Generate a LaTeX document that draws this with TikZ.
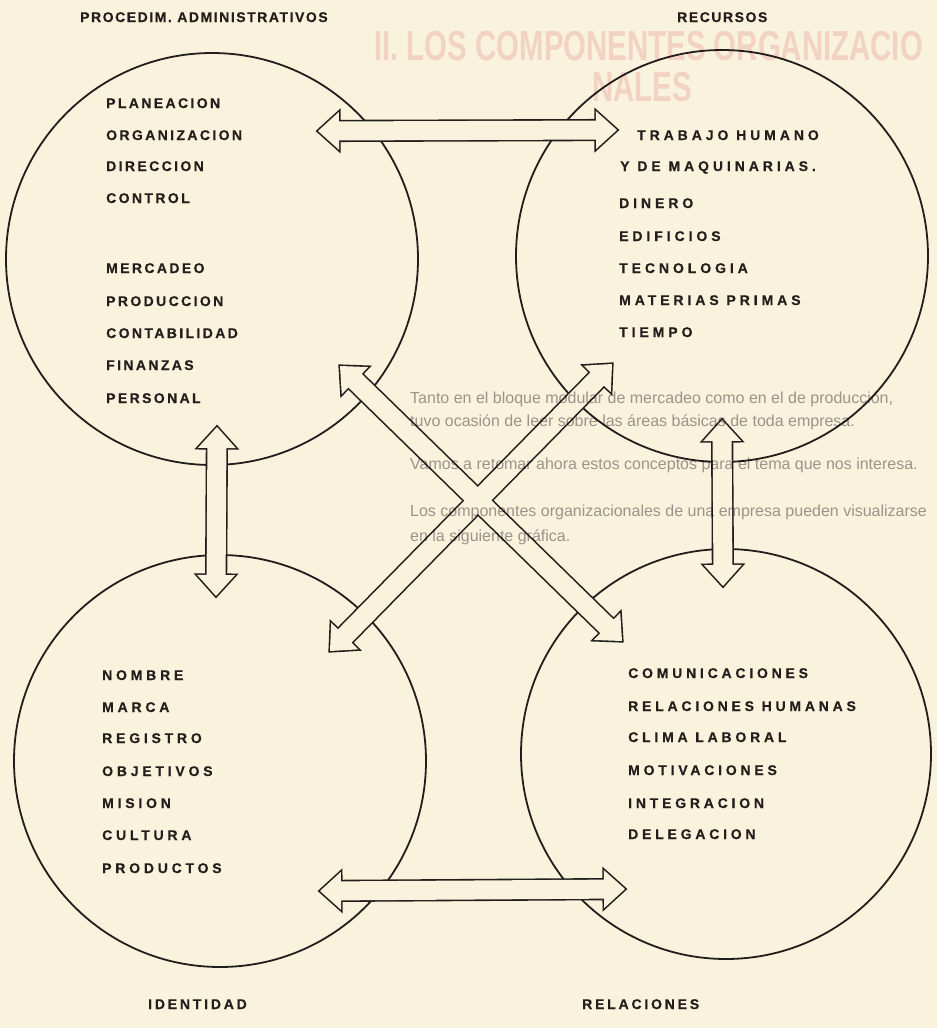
\documentclass[tikz,border=0pt]{standalone}
\usepackage{graphicx}
\usepackage{fontspec}
\setmainfont{Liberation Sans}
\newfontfamily\fhead[LetterSpace=11,FakeBold=0.4]{Liberation Sans}
\newfontfamily\ftl[LetterSpace=17,FakeBold=0.4]{Liberation Sans}
\newfontfamily\ftr[LetterSpace=28,FakeBold=0.4]{Liberation Sans}
\newfontfamily\fbl[LetterSpace=27,FakeBold=0.4]{Liberation Sans}
\newfontfamily\fbr[LetterSpace=27,FakeBold=0.4]{Liberation Sans}
\newfontfamily\flab[LetterSpace=20,FakeBold=0.4]{Liberation Sans}
\newfontfamily\fghost{Liberation Sans}
\usetikzlibrary{calc}
\definecolor{paper}{RGB}{249,242,221}
\definecolor{inkc}{RGB}{35,30,28}
\definecolor{ghostgray}{RGB}{158,156,160}
\definecolor{ghostpink}{RGB}{248,222,226}
\def\hl{21pt}\def\hw{19pt}\def\sw{9.5pt}
\newcommand\defarrow[3]{%
 \coordinate (#1-p) at ($(#2)!\hl!(#3)$);
 \coordinate (#1-q) at ($(#3)!\hl!(#2)$);
 \coordinate (#1-a1) at ($(#1-p)!\hw!90:(#3)$);
 \coordinate (#1-a2) at ($(#1-p)!\sw!90:(#3)$);
 \coordinate (#1-a3) at ($(#1-q)!\sw!-90:(#2)$);
 \coordinate (#1-a4) at ($(#1-q)!\hw!-90:(#2)$);
 \coordinate (#1-b1) at ($(#1-q)!\hw!90:(#2)$);
 \coordinate (#1-b2) at ($(#1-q)!\sw!90:(#2)$);
 \coordinate (#1-b3) at ($(#1-p)!\sw!-90:(#3)$);
 \coordinate (#1-b4) at ($(#1-p)!\hw!-90:(#3)$);
}
\newcommand\arrowshape[3]{(#2) -- (#1-a1) -- (#1-a2) -- (#1-a3) -- (#1-a4) -- (#3) -- (#1-b1) -- (#1-b2) -- (#1-b3) -- (#1-b4) -- cycle}
\begin{document}
\begin{tikzpicture}[x=1pt,y=-1pt,
  ring/.style={circle, draw=inkc, line width=1.8pt, inner sep=0pt, minimum size=#1},
  arrowink/.style={draw=inkc, line width=3.2pt, line join=miter, miter limit=10},
  arrowfill/.style={fill=paper},
  txt/.style={anchor=base west, inner sep=0pt, text=inkc},
  tltxt/.style={txt, font=\ftl\bfseries\fontsize{14pt}{14pt}\selectfont},
  trtxt/.style={txt, font=\ftr\bfseries\fontsize{14pt}{14pt}\selectfont},
  bltxt/.style={txt, font=\fbl\bfseries\fontsize{14pt}{14pt}\selectfont},
  brtxt/.style={txt, font=\fbr\bfseries\fontsize{14pt}{14pt}\selectfont},
  headtxt/.style={txt, font=\fhead\bfseries\fontsize{14pt}{14pt}\selectfont},
  labtxt/.style={txt, font=\flab\bfseries\fontsize{14pt}{14pt}\selectfont},
  ghostp/.style={anchor=base west, inner sep=0pt, text=ghostpink, font=\fghost\bfseries\fontsize{42pt}{42pt}\selectfont},
  ghostg/.style={anchor=base west, inner sep=0pt, text=ghostgray, font=\fghost\fontsize{16pt}{16pt}\selectfont}]
\fill[paper] (0,0) rectangle (937,1028);
\useasboundingbox (0,0) rectangle (937,1028);

% circles
\node[ring=412pt] (tl) at (212,259) {};
\node[ring=412pt] (tr) at (722,256) {};
\node[ring=412pt] (bl) at (220,761) {};
\node[ring=410pt] (br) at (726,754) {};

% arrow end points
\coordinate (h1s) at (318,131); \coordinate (h1e) at (617,130);
\coordinate (h2s) at (320,891); \coordinate (h2e) at (625,889);
\coordinate (v1s) at (217,427); \coordinate (v1e) at (216,596);
\coordinate (v2s) at (722,420); \coordinate (v2e) at (723,586);
\coordinate (das) at (340,366); \coordinate (dae) at (622,641);
\coordinate (dbs) at (612,364); \coordinate (dbe) at (330,651);
\defarrow{h1}{h1s}{h1e}
\defarrow{h2}{h2s}{h2e}
\defarrow{v1}{v1s}{v1e}
\defarrow{v2}{v2s}{v2e}
\defarrow{da}{das}{dae}
\defarrow{db}{dbs}{dbe}

\foreach \n/\s/\e in {h1/h1s/h1e, h2/h2s/h2e, v1/v1s/v1e, v2/v2s/v2e, da/das/dae, db/dbs/dbe}
  \draw[arrowink] \arrowshape{\n}{\s}{\e};
\foreach \n/\s/\e in {h1/h1s/h1e, h2/h2s/h2e, v1/v1s/v1e, v2/v2s/v2e, da/das/dae, db/dbs/dbe}
  \fill[arrowfill] \arrowshape{\n}{\s}{\e};

% headers
\node[headtxt] (hd1) at (80,22) {PROCEDIM. ADMINISTRATIVOS};
\node[headtxt] (hd2) at (677,22) {RECURSOS};

% top-left list
\node[tltxt] (a1) at (106,108) {PLANEACION};
\node[tltxt] (a2) at (106,140) {ORGANIZACION};
\node[tltxt] (a3) at (106,171) {DIRECCION};
\node[tltxt] (a4) at (106,203) {CONTROL};
\node[tltxt] (a5) at (106,273) {MERCADEO};
\node[tltxt] (a6) at (106,306) {PRODUCCION};
\node[tltxt] (a7) at (106,338) {CONTABILIDAD};
\node[tltxt] (a8) at (106,370) {FINANZAS};
\node[tltxt] (a9) at (106,403) {PERSONAL};

% top-right list
\node[trtxt] (b1) at (637,140) {TRABAJO HUMANO};
\node[trtxt] (b2) at (620,171) {Y DE MAQUINARIAS.};
\node[trtxt] (b3) at (619,208) {DINERO};
\node[trtxt] (b4) at (619,241) {EDIFICIOS};
\node[trtxt] (b5) at (619,273) {TECNOLOGIA};
\node[trtxt] (b6) at (619,305) {MATERIAS PRIMAS};
\node[trtxt] (b7) at (619,337) {TIEMPO};

% bottom-left list
\node[bltxt] (c1) at (102,680) {NOMBRE};
\node[bltxt] (c2) at (102,712) {MARCA};
\node[bltxt] (c3) at (102,743) {REGISTRO};
\node[bltxt] (c4) at (102,776) {OBJETIVOS};
\node[bltxt] (c5) at (102,808) {MISION};
\node[bltxt] (c6) at (102,840) {CULTURA};
\node[bltxt] (c7) at (102,873) {PRODUCTOS};

% bottom-right list
\node[brtxt] (d1) at (628,678) {COMUNICACIONES};
\node[brtxt] (d2) at (628,711) {RELACIONES HUMANAS};
\node[brtxt] (d3) at (628,742) {CLIMA LABORAL};
\node[brtxt] (d4) at (628,775) {MOTIVACIONES};
\node[brtxt] (d5) at (628,808) {INTEGRACION};
\node[brtxt] (d6) at (628,839) {DELEGACION};

% bottom labels
\node[labtxt] (l1) at (148,1009) {IDENTIDAD};
\node[labtxt] (l2) at (582,1009) {RELACIONES};

% show-through from the other side of the page
\begin{scope}[blend mode=multiply]
\node[ghostp] (g1) at (374,60) {\scalebox{0.7}[1]{II. LOS COMPONENTES ORGANIZACIO}};
\node[ghostp] (g2) at (592,101) {\scalebox{0.7}[1]{NALES}};
\node[ghostg] (g3) at (410,403) {Tanto en el bloque modular de mercadeo como en el de producci\'on,};
\node[ghostg] (g4) at (410,426) {tuvo ocasi\'on de leer sobre las \'areas b\'asicas de toda empresa.};
\node[ghostg] (g5) at (410,469) {Vamos a retomar ahora estos conceptos para el tema que nos interesa.};
\node[ghostg] (g6) at (410,516) {Los componentes organizacionales de una empresa pueden visualizarse};
\node[ghostg] (g7) at (410,541) {en la siguiente gr\'afica.};
\end{scope}
\end{tikzpicture}
\end{document}
